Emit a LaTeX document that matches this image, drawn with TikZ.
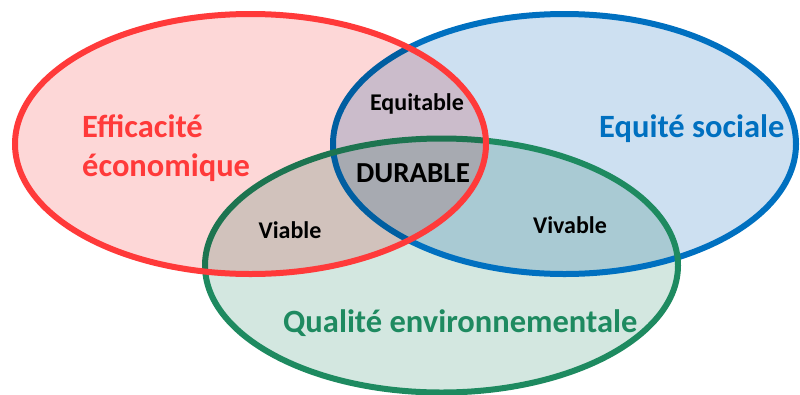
\documentclass[tikz,border=0pt]{standalone}
\usepackage{fontspec}
\setmainfont{Carlito}
\definecolor{rstroke}{HTML}{FF3A3A}
\definecolor{rfill}{HTML}{FDD7D7}
\definecolor{bstroke}{HTML}{0070C0}
\definecolor{bfill}{HTML}{CDE0F1}
\definecolor{gstroke}{HTML}{1E8A60}
\definecolor{gfill}{HTML}{D3E7E0}
\tikzset{
  ring/.style={line width=6pt},
  big/.style={font=\fontsize{32.5}{38}\selectfont\bfseries, inner sep=0pt},
  small/.style={font=\fontsize{24}{28}\selectfont\bfseries, inner sep=0pt, text=black},
}
\begin{document}
\begin{tikzpicture}[x=1pt,y=-1pt]
\useasboundingbox (0,0) rectangle (800,394);
\coordinate (rc) at (250.5,144);
\coordinate (bc) at (564.5,144);
\coordinate (gc) at (441.5,265.5);
\begin{scope}[blend mode=multiply]
  \fill[bfill] (bc) ellipse [x radius=231.5pt, y radius=130pt];
  \fill[gfill] (gc) ellipse [x radius=236.5pt, y radius=127pt];
\end{scope}
\draw[ring, bstroke] (bc) ellipse [x radius=231.5pt, y radius=130pt];
\draw[ring, gstroke] (gc) ellipse [x radius=236.5pt, y radius=127pt];
\begin{scope}[blend mode=multiply]
  \fill[rfill] (rc) ellipse [x radius=235.5pt, y radius=130pt];
\end{scope}
\draw[ring, rstroke] (rc) ellipse [x radius=235.5pt, y radius=130pt];
\node[big, text=rstroke, anchor=base west] (eco1) at (82,137) {Efficacité};
\node[big, text=rstroke, anchor=base west] (eco2) at (82,176) {économique};
\node[big, text=bstroke, anchor=base west] (soc) at (599,137) {Equité sociale};
\node[big, text=gstroke, anchor=base west] (env) at (283,332) {Qualité environnementale};
\node[small, anchor=base] (equ) at (417,110) {Equitable};
\node[small, anchor=base, font=\fontsize{29}{33}\selectfont\bfseries] (dur) at (413,182) {DURABLE};
\node[small, anchor=base] (via) at (290,238) {Viable};
\node[small, anchor=base] (viv) at (570,233) {Vivable};
\end{tikzpicture}
\end{document}
